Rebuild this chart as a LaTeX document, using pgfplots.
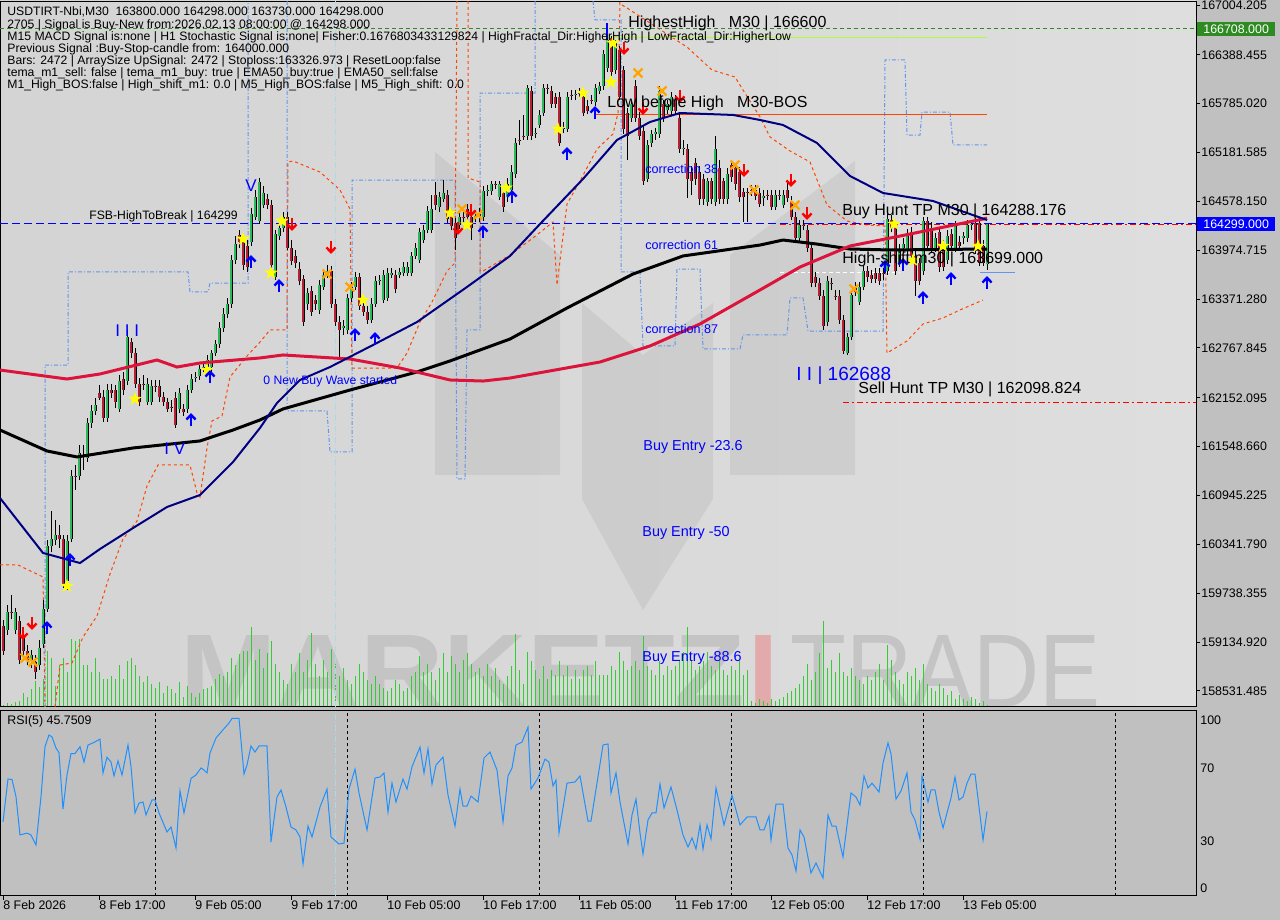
\documentclass[border=0pt]{standalone}
\usepackage{fontspec}
\setmainfont{Liberation Sans}
\usepackage{graphicx}
\usepackage{pgfplots}
\pgfplotsset{compat=1.18}
\usepackage{pgfplotstable}

\definecolor{panel}{RGB}{192,192,192}
\definecolor{bull}{RGB}{46,184,92}
\definecolor{bear}{RGB}{178,34,52}
\definecolor{marine}{RGB}{0,0,128}
\definecolor{crimsonma}{RGB}{220,20,60}
\definecolor{envel}{RGB}{255,69,0}
\definecolor{steps}{RGB}{100,149,237}
\definecolor{rsiblue}{RGB}{30,144,255}
\definecolor{volgreen}{RGB}{50,205,50}
\definecolor{limeline}{RGB}{173,255,47}
\definecolor{boxgreen}{RGB}{46,139,34}
\definecolor{wmgray}{RGB}{196,196,196}
\definecolor{wmpink}{RGB}{226,170,170}
\definecolor{starY}{RGB}{255,255,0}
\definecolor{xorange}{RGB}{255,165,0}
\definecolor{lightcyan}{RGB}{173,216,230}

% signal markers
\pgfdeclareplotmark{mtstar}{%
 \pgfpathmoveto{\pgfpointpolar{90}{3.6pt}}%
 \pgfpathlineto{\pgfpointpolar{126}{1.4pt}}%
 \pgfpathlineto{\pgfpointpolar{162}{3.6pt}}%
 \pgfpathlineto{\pgfpointpolar{198}{1.4pt}}%
 \pgfpathlineto{\pgfpointpolar{234}{3.6pt}}%
 \pgfpathlineto{\pgfpointpolar{270}{1.4pt}}%
 \pgfpathlineto{\pgfpointpolar{306}{3.6pt}}%
 \pgfpathlineto{\pgfpointpolar{342}{1.4pt}}%
 \pgfpathlineto{\pgfpointpolar{18}{3.6pt}}%
 \pgfpathlineto{\pgfpointpolar{54}{1.4pt}}%
 \pgfpathclose\pgfusepathqfill}
\pgfdeclareplotmark{mtup}{%
 \pgfsetlinewidth{1.2pt}\pgfsetmiterjoin
 \pgfpathmoveto{\pgfpoint{0pt}{-3.2pt}}\pgfpathlineto{\pgfpoint{0pt}{2.4pt}}%
 \pgfusepathqstroke
 \pgfpathmoveto{\pgfpoint{-2.3pt}{0.2pt}}\pgfpathlineto{\pgfpoint{0pt}{2.6pt}}\pgfpathlineto{\pgfpoint{2.3pt}{0.2pt}}%
 \pgfusepathqstroke}
\pgfdeclareplotmark{mtdown}{%
 \pgfsetlinewidth{1.2pt}\pgfsetmiterjoin
 \pgfpathmoveto{\pgfpoint{0pt}{3.2pt}}\pgfpathlineto{\pgfpoint{0pt}{-2.4pt}}%
 \pgfusepathqstroke
 \pgfpathmoveto{\pgfpoint{-2.3pt}{-0.2pt}}\pgfpathlineto{\pgfpoint{0pt}{-2.6pt}}\pgfpathlineto{\pgfpoint{2.3pt}{-0.2pt}}%
 \pgfusepathqstroke}
\pgfdeclareplotmark{mtx}{%
 \pgfsetlinewidth{1.2pt}%
 \pgfpathmoveto{\pgfpoint{-2.2pt}{-2.2pt}}\pgfpathlineto{\pgfpoint{2.2pt}{2.2pt}}%
 \pgfpathmoveto{\pgfpoint{-2.2pt}{2.2pt}}\pgfpathlineto{\pgfpoint{2.2pt}{-2.2pt}}%
 \pgfusepathqstroke}

% M30 candles: x position, open, high, low, close, tick volume
\pgfplotstableread{
x o h l c v
3 159333 159407 158975 159024 2
7 159283 159592 159222 159506 4
11 159506 159715 159419 159493 3
15 159283 159555 159234 159506 5
19 159395 159456 158863 158913 6
23 159197 159283 158962 159024 14
27 159024 159098 158851 158913 10
31 158913 159036 158814 158975 18
35 158888 158975 158678 158765 26
39 158851 159160 158789 159061 20
43 159110 159654 159061 159543 28
47 159543 160395 159506 160321 56
51 160321 160753 160247 160407 49
55 160395 160642 160333 160457 21
59 160457 160580 160296 160407 42
63 160407 160457 159802 159851 49
67 159888 160457 159778 160383 35
71 160407 161260 160370 161186 68
75 161186 161322 161013 161174 66
79 161186 161569 161137 161470 68
83 161446 161569 161260 161421 42
87 161409 161903 161359 161841 42
91 161841 162063 161779 161989 35
95 161989 162149 161940 162063 49
99 162211 162310 162125 162149 35
103 162162 162248 161853 161903 28
107 161903 162322 161853 162248 28
111 162248 162322 162149 162211 31
115 162248 162310 162026 162100 28
119 162014 162434 161977 162359 42
123 162384 162471 162186 162248 28
127 162359 162989 162310 162903 46
131 162841 162891 162644 162705 49
135 162705 162767 162273 162322 42
139 162322 162396 162051 162100 31
143 162322 162434 162248 162310 25
147 162100 162396 162063 162322 31
151 162100 162372 162063 162298 23
155 162298 162372 162224 162285 19
159 162298 162372 162100 162162 25
163 162162 162224 162051 162100 14
167 162100 162149 161977 162014 21
171 162039 162125 161977 162026 18
175 162149 162224 161779 161816 14
179 162014 162273 161964 162211 25
183 162014 162076 161927 161977 10
187 162014 162310 161964 162248 21
191 162248 162446 162211 162384 14
195 162396 162471 162347 162409 10
199 162421 162557 162372 162508 14
203 162520 162594 162471 162532 18
207 162532 162681 162495 162619 19
211 162532 162742 162471 162705 21
215 162705 162866 162668 162816 28
219 162816 163088 162767 163014 33
223 163014 163261 162965 163187 31
227 163187 163384 163138 163311 35
231 163311 163916 163261 163854 49
235 163854 164150 163804 164051 42
239 164163 164225 164002 164076 53
243 164076 164150 163731 163792 56
247 164027 164101 163706 163767 56
251 164076 164496 164027 164422 80
255 164385 164719 164348 164633 47
259 164336 164867 164299 164818 58
263 164533 164769 164496 164682 39
267 164608 164670 164484 164533 54
271 164533 164595 163755 163792 66
275 163644 164225 163607 164175 43
279 164150 164323 164101 164249 35
283 164249 164447 164200 164385 27
287 164385 164447 163978 164002 23
291 164002 164101 163792 163841 43
295 163903 163978 163755 163817 35
299 163743 163829 163545 163594 54
303 163619 163669 163039 163088 35
307 163311 163508 163237 163446 47
311 163471 163533 163162 163212 74
315 163360 163421 163237 163311 43
319 163237 163607 163187 163545 31
323 163520 163731 163484 163669 47
327 163669 163792 163631 163718 35
331 163718 163780 163261 163311 58
335 163311 163372 163039 163088 43
339 163088 163162 162656 162990 31
343 163014 163113 162928 163039 39
347 162990 163434 162940 163384 27
351 163384 163582 163335 163520 23
355 163520 163706 163484 163644 31
359 163644 163693 163237 163286 43
363 163286 163360 163162 163212 35
367 163212 163286 163064 163113 27
371 163113 163384 163076 163311 23
375 163311 163656 163274 163594 31
379 163594 163669 163545 163607 23
383 163360 163731 163323 163669 19
387 163384 163755 163348 163693 16
391 163669 163755 163631 163693 19
395 163669 163731 163446 163496 27
399 163669 163755 163631 163706 23
403 163693 163829 163656 163767 16
407 163693 163829 163656 163767 19
411 163693 163953 163656 163903 31
415 163903 164064 163866 164002 35
419 163854 164249 163817 164200 51
423 164101 164286 164064 164225 35
427 164225 164521 164187 164459 43
431 164225 164657 164187 164484 35
435 164657 164818 164472 164533 27
439 164509 164695 164447 164633 39
443 164608 164842 164570 164682 54
447 164657 164719 164311 164360 35
451 164385 164447 164225 164274 51
455 164311 164372 163978 164126 43
459 164286 164447 164237 164385 35
463 164385 164472 164323 164372 47
467 164484 164546 164336 164385 54
471 164385 164447 164101 164249 43
475 164385 164472 164323 164397 35
479 164435 164496 164323 164385 39
483 164385 164769 164336 164707 31
487 164707 164781 164645 164719 43
491 164707 164830 164657 164793 31
495 164793 164830 164731 164781 39
499 164633 164830 164595 164793 27
503 164682 164744 164447 164509 23
507 164633 164867 164570 164793 31
511 164719 165028 164670 164942 41
515 164917 165362 164867 165300 73
519 165337 165584 165275 165324 37
523 165386 165646 165337 165374 23
527 165386 166016 165337 165979 55
531 165942 166004 165337 165386 46
535 165411 165485 165362 165423 37
539 165522 165707 165485 165646 28
543 165670 166028 165633 165979 41
547 165979 166028 165905 165967 28
551 165942 166004 165732 165782 37
555 165868 165917 165732 165782 32
559 165868 165930 165263 165300 46
563 165473 165559 165423 165485 32
567 165473 165930 165436 165868 41
571 165893 165954 165831 165880 28
575 165893 165954 165831 165905 37
579 165917 165979 165856 165905 28
583 165868 165930 165633 165670 37
587 165756 165831 165658 165695 41
591 165831 165893 165782 165819 32
595 165806 166028 165756 165979 46
599 165942 166053 165905 166004 32
603 166004 166448 165954 166399 32
607 166226 166597 166177 166572 32
611 166597 166621 166127 166177 41
615 166201 166572 166152 166535 37
619 166448 166498 165831 165868 55
623 166201 166251 165411 165473 46
627 165670 165732 165090 165386 37
631 165609 165831 165559 165782 41
635 166004 166078 165559 165609 46
639 165609 165683 165337 165386 37
643 165448 165510 164781 164830 71
647 164855 165337 164818 165275 41
651 165300 165460 165250 165411 37
655 165411 165485 165337 165436 32
659 165411 166004 165362 165942 46
663 165782 165831 165559 165609 32
667 165707 165831 165658 165782 41
671 165695 165930 165646 165868 37
675 165831 165893 165646 165695 41
679 165609 165658 165176 165226 46
683 165226 165337 165151 165238 55
687 165226 165287 164620 164855 80
691 164942 165016 164657 164830 46
695 165053 165114 164781 164855 37
699 164942 165016 164533 164608 41
703 164855 164917 164533 164608 46
707 164570 164867 164521 164830 55
711 164830 164867 164546 164608 41
715 164570 165386 164521 165226 37
719 164991 165090 164546 164608 46
723 164830 164867 164546 164608 37
727 164608 164991 164546 164917 32
731 165028 165090 164818 164880 41
735 164991 165053 164719 164793 37
739 164942 165003 164570 164633 46
743 164695 164744 164323 164633 32
747 164695 164744 164323 164682 37
751 164719 164781 164645 164707 6
755 164719 164781 164595 164645 4
759 164682 164744 164509 164546 8
763 164620 164719 164521 164645 6
767 164657 164719 164595 164645 4
771 164657 164719 164472 164509 8
775 164509 164719 164472 164657 6
779 164657 164719 164595 164645 8
783 164533 164719 164496 164657 10
787 164719 164818 164570 164620 14
791 164583 164645 164348 164385 16
795 164385 164447 164089 164126 19
799 164126 164348 164089 164286 23
803 164286 164348 164225 164274 31
807 164225 164286 163953 164002 43
811 164002 164051 163520 163570 27
815 163644 163706 163520 163570 35
819 163570 163632 163360 163409 54
823 163409 163484 162990 163039 86
827 163088 163656 163039 163594 39
831 163570 163632 163484 163558 47
835 163409 163484 163360 163397 35
839 163409 163484 163064 163113 54
843 163113 163175 162692 162730 35
847 162705 162953 162681 162903 31
851 162903 163484 162866 163421 39
855 163520 163582 163409 163459 31
859 163335 163582 163298 163520 27
863 163520 163780 163484 163718 23
867 163718 163780 163582 163644 31
871 163669 163731 163570 163619 27
875 163693 163755 163570 163619 35
879 163693 163755 163545 163594 43
883 163693 163755 163607 163681 27
887 163718 164422 163669 164360 62
891 164348 164410 164200 164249 47
895 164249 164323 163669 163718 35
899 163817 164051 163767 163990 27
903 164002 164126 163953 164051 23
907 163978 164237 163928 164175 35
911 164200 164262 163829 163903 31
915 163903 163978 163409 163594 39
919 163817 163879 163545 163594 27
923 163718 164385 163669 164336 43
927 164336 164385 163978 164027 23
931 164249 164323 163953 164002 19
935 164002 164187 163953 164126 16
939 164200 164262 163706 163767 23
943 164027 164101 163718 163767 19
947 163854 164225 163804 164150 12
951 164175 164237 163978 164027 16
955 164002 164336 163953 164274 8
959 164076 164150 163978 164027 12
963 164126 164200 164051 164150 8
967 164126 164348 164076 164286 6
971 164286 164348 164225 164299 10
975 164311 164372 163928 163978 8
979 164311 164372 163780 163817 4
983 164027 164101 163780 163817 6
987 163800 164298 163730 164298 2
}\candles

\newcommand\finfo{\fontsize{6.1}{6.8}\selectfont}
\newcommand\fbig{\fontsize{8}{9}\selectfont}
\newcommand\fcor{\fontsize{6.3}{7}\selectfont}
\newcommand\fentry{\fontsize{7.2}{8}\selectfont}
\newcommand\fscale{\fontsize{6.2}{7}\selectfont}

\begin{document}
\begin{tikzpicture}
\useasboundingbox (0,0) rectangle (640pt,460pt);
\fill[panel] (0,0) rectangle (640pt,460pt);

% chart backdrop, logo and watermark (pixel grid, y downwards)
\begin{scope}[x=0.5pt,y=-0.5pt,shift={(0pt,460pt)}]
  \shade[left color={rgb,255:red,212;green,212;blue,212}, middle color={rgb,255:red,243;green,243;blue,243}, right color={rgb,255:red,222;green,222;blue,222}] (0,1) rectangle (1196,707);
  \begin{scope}[fill=black, opacity=0.06]
    \fill (435,152) -- (560,255) -- (560,475) -- (435,475) -- cycle;
    \fill (582,303) -- (643,355) -- (713,303) -- (713,499) -- (643,610) -- (582,499) -- cycle;
    \fill (730,255) -- (855,161) -- (855,475) -- (730,475) -- cycle;
  \end{scope}
  \node[anchor=south west, inner sep=0pt, text=wmgray] at (180,708) {\resizebox{282.5pt}{36pt}{\bfseries MARKETZ}};
  \node[anchor=south west, inner sep=0pt, text=wmpink] at (748,708) {\resizebox{15pt}{36pt}{\bfseries I}};
  \node[anchor=south west, inner sep=0pt, text=wmgray] at (790,708) {\resizebox{155pt}{36pt}{TRADE}};
\end{scope}

% tick volume
\begin{axis}[at={(0pt,106.5pt)}, anchor=south west, width=598pt, height=353pt, scale only axis,
  xmin=0, xmax=1196, ymin=0, ymax=706, hide axis]
  \addplot[ycomb, draw=volgreen, line width=0.45pt] table[x=x, y=v] {\candles};
\end{axis}

% price panel
\begin{axis}[at={(0pt,106.5pt)}, anchor=south west, width=598pt, height=353pt, scale only axis,
  xmin=0, xmax=1196, ymin=158332.4, ymax=167053.6,
  xtick=\empty, scaled y ticks=false,
  ytick pos=right, yticklabel pos=right, tick align=outside, major tick length=2pt,
  ytick={158531.485,159134.920,159738.355,160341.790,160945.225,161548.660,162152.095,162767.845,163371.280,163974.715,164578.150,165181.585,165785.020,166388.455,167004.205},
  yticklabels={158531.485,159134.920,159738.355,160341.790,160945.225,161548.660,162152.095,162767.845,163371.280,163974.715,164578.150,165181.585,165785.020,166388.455,167004.205},
  yticklabel style={anchor=west, inner sep=0pt, font=\fscale, xshift=0.5pt},
  axis line style={black, line width=0.5pt}, tick style={black, line width=0.5pt}]

  % channel steps
  \addplot[steps, line width=0.5pt, dash pattern=on 2pt off 1pt on 0.5pt off 1pt] coordinates {(45,158333) (45,162557) (68,162557) (68,163706) (188,163706) (190,163459) (208,163459) (210,163570) (248,163570) (248,167054)};
  \addplot[steps, line width=0.5pt, dash pattern=on 2pt off 1pt on 0.5pt off 1pt] coordinates {(287,167054) (287,161989) (327,161989) (330,161483) (352,161483) (352,164842) (455,164842) (457,161149) (465,161149) (467,162990) (480,162990) (480,165917) (535,165917) (535,167054)};
  \addplot[steps, line width=0.5pt, dash pattern=on 2pt off 1pt on 0.5pt off 1pt] coordinates {(593,167054) (595,166819) (621,166819) (621,163706) (640,163706) (643,162792) (675,162792) (677,163743) (700,163743) (703,162755) (740,162755) (743,162928) (787,162928) (790,163385) (803,163385) (808,162977) (883,162977) (885,166325) (905,166325) (907,165398) (920,165398) (922,165682) (950,165682) (953,165275) (987,165275)};
  % envelope
  \addplot[envel, line width=0.5pt, dash pattern=on 1.5pt off 1.5pt] coordinates {(0,160087) (18,160087) (43,159938) (45,158333)};
  \addplot[envel, line width=0.5pt, dash pattern=on 1.5pt off 1.5pt] coordinates {(55,158333) (60,158851) (72,158876) (83,159197) (97,159457) (110,159976) (123,160408) (137,160630) (147,161063) (158,161322) (190,161322) (197,160976) (200,160927) (207,161532) (212,161866) (222,161927) (230,162409) (247,162668) (260,162841) (270,162990) (287,162990) (288,165065) (293,165077) (320,164941) (340,164719) (350,164484) (352,162520) (397,162520) (407,162705) (420,163088) (432,163335) (447,163718) (455,163817) (457,167054)};
  \addplot[envel, line width=0.5pt, dash pattern=on 1.5pt off 1.5pt] coordinates {(468,167054) (468,164867) (480,164818) (480,163718) (483,163718) (510,163916) (533,164126) (553,164323) (557,163545) (567,164546) (580,164830) (597,165225) (613,165411) (618,165670) (620,167054)};
  \addplot[envel, line width=0.5pt, dash pattern=on 1.5pt off 1.5pt] coordinates {(622,167004) (627,166967) (687,166485) (712,166201) (735,166115) (743,165954) (760,165621) (770,165374) (790,165201) (810,165065) (827,164534) (847,164336) (867,164287) (885,164274) (887,162705) (907,162854) (923,163064) (943,163138) (960,163237) (983,163360)};

  % levels
  \addplot[boxgreen, line width=0.5pt, dash pattern=on 2pt off 1.5pt] coordinates {(0,166708) (1196,166708)};
  \addplot[limeline, line width=0.6pt] coordinates {(605,166600) (987,166600)};
  \addplot[envel, line width=0.5pt] coordinates {(595,165646) (987,165646)};
  \addplot[blue, line width=0.5pt, dash pattern=on 4pt off 2pt] coordinates {(0,164299) (1196,164299)};
  \addplot[red, line width=0.5pt, dash pattern=on 3pt off 1.5pt on 1pt off 1.5pt] coordinates {(780,164288.176) (1196,164288.176)};
  \addplot[white, line width=0.5pt, dash pattern=on 2pt off 1.5pt] coordinates {(780,163699) (900,163699)};
  \addplot[steps, line width=0.5pt] coordinates {(980,163699) (1015,163699)};
  \addplot[red, line width=0.5pt, dash pattern=on 3pt off 1.5pt on 1pt off 1.5pt] coordinates {(843,162098.824) (1196,162098.824)};
  \addplot[lightcyan, line width=0.5pt, dash pattern=on 3pt off 1pt on 0.5pt off 1pt] coordinates {(335,158332.4) (335,167053.6)};
  \addplot[blue, line width=1pt] coordinates {(607,166780) (607,166540)};

  % candles
  \addplot[black, line width=0.5pt, quiver={u=0, v=\thisrow{h}-\thisrow{l}}] table[x=x, y=l] {\candles};
  \addplot[black, line width=1.5pt, quiver={u=0, v=\thisrow{c}-\thisrow{o}}] table[x=x, y=o] {\candles};
  \addplot[bull, line width=0.8pt, quiver={u=0, v={\thisrow{c}>\thisrow{o} ? \thisrow{c}-\thisrow{o} : 0}}] table[x=x, y=o] {\candles};
  \addplot[bear, line width=0.8pt, quiver={u=0, v={\thisrow{c}<\thisrow{o} ? \thisrow{c}-\thisrow{o} : 0}}] table[x=x, y=o] {\candles};

  % moving averages
  \addplot[black, line width=1.5pt] coordinates {(0,161754) (47,161495) (77,161421) (133,161532) (200,161619) (233,161754) (260,161878) (283,162014) (350,162248) (417,162471) (450,162607) (510,162878) (567,163261) (633,163681) (683,163904) (760,164039) (783,164101) (817,164051) (850,163990) (890,163978) (987,163990)};
  \addplot[crimsonma, line width=1.5pt] coordinates {(0,162495) (67,162384) (100,162446) (157,162619) (177,162532) (200,162582) (260,162644) (283,162681) (350,162631) (400,162520) (450,162372) (483,162359) (510,162396) (600,162594) (650,162792) (700,163064) (760,163484) (800,163767) (850,164027) (900,164150) (983,164360) (987,164372)};
  \addplot[marine, line width=1pt] coordinates {(0,160914) (43,160235) (80,160111) (100,160284) (133,160543) (167,160803) (200,160951) (233,161359) (260,161779) (277,162088) (300,162372) (330,162532) (373,162804) (417,163088) (467,163521) (510,163904) (540,164299) (583,164855) (617,165337) (650,165559) (680,165670) (733,165646) (760,165584) (783,165522) (817,165300) (850,164892) (883,164682) (933,164583) (987,164348)};

  % signals
  \addplot[only marks, mark=mtx, color=xorange] coordinates {(25,158938) (33,158888) (327,163681) (350,163521) (462,164484) (478,164410) (638,166164) (662,165942) (735,165028) (754,164719) (795,164533) (854,163496)};
  \addplot[only marks, mark=mtstar, color=starY] coordinates {(67,159827) (135,162137) (207,162495) (243,164114) (271,163694) (282,164336) (363,163360) (450,164435) (467,164287) (506,164744) (558,165472) (583,165917) (611,166053) (613,166535) (894,164299) (913,163854) (943,164027) (978,164027)};
  \addplot[only marks, mark=mtup, color=blue] coordinates {(47,159308) (70,160148) (191,161878) (210,162409) (251,163830) (279,163533) (355,162928) (375,162878) (483,164200) (512,164633) (567,165164) (595,165670) (885,163768) (903,163793) (923,163385) (951,163619) (987,163570)};
  \addplot[only marks, mark=mtdown, color=red] coordinates {(23,159247) (32,159370) (292,164299) (331,164015) (458,164250) (471,164472) (624,166473) (643,165732) (680,165880) (744,164966) (791,164842) (807,164435)};
\end{axis}

% RSI panel
\begin{axis}[at={(0pt,12pt)}, anchor=south west, width=598pt, height=92.5pt, scale only axis,
  xmin=0, xmax=1196, ymin=0, ymax=100,
  axis background/.style={fill=panel},
  ytick=\empty,
  xtick pos=bottom, tick align=outside, major tick length=2pt,
  xtick={3,99,195,291,387,483,579,675,771,867,963},
  xticklabels={8 Feb 2026,8 Feb 17:00,9 Feb 05:00,9 Feb 17:00,10 Feb 05:00,10 Feb 17:00,11 Feb 05:00,11 Feb 17:00,12 Feb 05:00,12 Feb 17:00,13 Feb 05:00},
  xticklabel style={anchor=north west, inner sep=0pt, font=\fscale},
  axis line style={black, line width=0.5pt}, tick style={black, line width=0.5pt}]
  \addplot[black, line width=0.5pt, dash pattern=on 1.5pt off 1.5pt] coordinates {(155,0) (155,100)};
  \addplot[black, line width=0.5pt, dash pattern=on 1.5pt off 1.5pt] coordinates {(347,0) (347,100)};
  \addplot[black, line width=0.5pt, dash pattern=on 1.5pt off 1.5pt] coordinates {(539,0) (539,100)};
  \addplot[black, line width=0.5pt, dash pattern=on 1.5pt off 1.5pt] coordinates {(731,0) (731,100)};
  \addplot[black, line width=0.5pt, dash pattern=on 1.5pt off 1.5pt] coordinates {(923,0) (923,100)};
  \addplot[black, line width=0.5pt, dash pattern=on 1.5pt off 1.5pt] coordinates {(1115,0) (1115,100)};
  \addplot[lightcyan, line width=0.5pt, dash pattern=on 3pt off 1pt on 0.5pt off 1pt] coordinates {(335,0) (335,100)};
  \addplot[rsiblue, line width=0.5pt] coordinates {(3,40.1) (8,63.2) (12,63) (16,53.7) (20,33) (27,34) (31,33) (36,27.6) (41,53.7) (45,80.7) (49,87) (52,86) (56,80) (59,77.5) (63,47) (67,65.4) (71,77) (75,77) (80,80.7) (84,72.4) (88,81.6) (94,83) (100,84.8) (103,66.5) (107,75) (111,72.4) (114,64.9) (118,73) (122,65.4) (128,81.6) (131,69.9) (135,44.9) (139,50.2) (143,50.8) (146,43.8) (152,51.9) (155,51.9) (159,44.9) (167,34.6) (171,37.3) (176,25.9) (180,56.8) (184,44.9) (191,63.6) (196,65.4) (201,69.2) (204,68.1) (207,66.5) (210,77.3) (216,85.4) (222,89.2) (229,93.5) (232,96) (239,96) (244,65.9) (247,70.8) (251,81.1) (255,77.8) (259,81.1) (267,81.1) (271,29.2) (277,53.5) (281,57.3) (286,48.1) (291,37.3) (296,35.7) (300,31.9) (303,17.3) (308,37.8) (312,31.9) (320,48.1) (327,57.8) (331,31.9) (339,28.1) (344,28.6) (349,57.8) (355,68.6) (359,55.7) (367,35.7) (375,63.8) (380,64.3) (384,66.5) (388,45.4) (392,61) (396,50.8) (403,63.2) (407,57.8) (412,69.9) (420,80.5) (424,66.5) (428,79.5) (432,60.5) (436,70.8) (443,75.1) (448,54.6) (455,37.8) (460,57.8) (463,48.6) (467,48.6) (471,54) (478,50.8) (484,74.6) (490,77.8) (497,68.1) (503,40) (508,64.9) (512,69.2) (516,81.6) (522,83.2) (528,91.3) (531,57.8) (538,63.8) (545,74) (549,72.4) (553,59.5) (556,62.7) (559,34.1) (567,61) (575,61.6) (580,64.9) (588,40.5) (591,40.5) (603,81.6) (608,82.2) (611,55.7) (616,66.5) (620,50.8) (628,28.1) (632,43.8) (636,52.4) (640,34.1) (643,22.7) (648,41.1) (652,44.9) (656,44.9) (660,60.5) (664,47.6) (671,58.9) (677,46.5) (683,33) (688,26.5) (692,31.4) (696,25.4) (700,38.4) (703,25.4) (707,38.4) (711,30.8) (716,58.4) (724,38.4) (732,54.6) (740,38.4) (747,42.7) (756,42.7) (760,35.7) (764,35.7) (769,43.2) (771,30.3) (776,49.7) (783,49.7) (788,25.9) (792,22.2) (796,13.5) (800,35.7) (804,31.9) (811,12.4) (816,17.8) (823,9.7) (828,43.8) (832,37.8) (836,37.8) (843,21.1) (851,55.7) (856,53.5) (860,49.2) (864,64.9) (868,58.4) (872,61) (879,56.2) (883,71.9) (888,82.7) (891,76.8) (896,52.4) (901,56.8) (907,66.5) (911,45.4) (915,41.1) (920,30.8) (922,64.9) (928,50.8) (931,57.3) (935,57.3) (939,45.4) (943,36.8) (951,53) (955,64.3) (959,51.9) (963,53.5) (967,61) (971,65.9) (975,65.9) (979,48.1) (983,30.3) (987,45.75)};
\end{axis}

% labels (pixel grid, y downwards)
\begin{scope}[x=0.5pt,y=-0.5pt,shift={(0pt,460pt)}]
  \begin{scope}[every node/.style={anchor=west, inner sep=0pt, font=\finfo}]
    \node at (7,12) {USDTIRT-Nbi,M30\ \ 163800.000 164298.000 163730.000 164298.000};
    \node at (7,25) {2705 | Signal is Buy-New from:2026.02.13 08:00:00 @ 164298.000};
    \node at (7,37) {M15 MACD Signal is:none | H1 Stochastic Signal is:none| Fisher:0.1676803433129824 | HighFractal\_Dir:HigherHigh | LowFractal\_Dir:HigherLow};
    \node at (7,49) {Previous Signal :Buy-Stop-candle from: 164000.000};
    \node at (7,61) {Bars: 2472 | ArraySize UpSignal: 2472 | Stoploss:163326.973 | ResetLoop:false};
    \node at (7,73) {tema\_m1\_sell: false | tema\_m1\_buy: true | EMA50\_buy:true | EMA50\_sell:false};
    \node at (7,85) {M1\_High\_BOS:false | High\_shift\_m1: 0.0 | M5\_High\_BOS:false | M5\_High\_shift: 0.0};
    \node at (89,216) {FSB-HighToBreak | 164299};
    \node[text=blue] at (263,381) {0 New Buy Wave started};
    \node at (7,721) {\fscale RSI(5) 45.7509};
  \end{scope}
  \begin{scope}[every node/.style={anchor=west, inner sep=0pt, font=\fbig}]
    \node at (628,23) {HighestHigh\ \ \ M30 | 166600};
    \node at (607,103) {Low before High\ \ \ M30-BOS};
    \node at (842,211) {Buy Hunt TP M30 | 164288.176};
    \node at (842,259) {High-shift m30 | 163699.000};
    \node at (858,389) {Sell Hunt TP M30 | 162098.824};
  \end{scope}
  \begin{scope}[every node/.style={anchor=west, inner sep=0pt, text=blue}]
    \node[font=\fcor] at (645,169) {correction 38};
    \node[font=\fcor] at (645,245) {correction 61};
    \node[font=\fcor] at (645,329) {correction 87};
    \node[font=\fentry] at (643,447) {Buy Entry -23.6};
    \node[font=\fentry] at (642,533) {Buy Entry -50};
    \node[font=\fentry] at (642,658) {Buy Entry -88.6};
    \node[font=\fontsize{9.5}{10}\selectfont] at (796,376) {I I | 162688};
    \node[font=\fontsize{8.5}{9}\selectfont] at (115,331) {I I I};
    \node[font=\fontsize{8.5}{9}\selectfont] at (245,186) {V};
    \node[font=\fontsize{8.5}{9}\selectfont] at (164,449) {I V};
  \end{scope}
  \begin{scope}[every node/.style={anchor=west, inner sep=0pt, font=\fscale}]
    \node at (1200,720) {100};
    \node at (1200,768) {70};
    \node at (1200,841) {30};
    \node at (1200,888) {0};
  \end{scope}
  \node[anchor=west, fill=boxgreen, text=white, font=\fscale, inner xsep=3pt, inner ysep=0pt, minimum height=7pt] at (1197,29) {166708.000};
  \node[anchor=west, fill=blue, text=white, font=\fscale, inner xsep=3pt, inner ysep=0pt, minimum height=7pt] at (1197,224) {164299.000};
\end{scope}
\end{tikzpicture}
\end{document}
